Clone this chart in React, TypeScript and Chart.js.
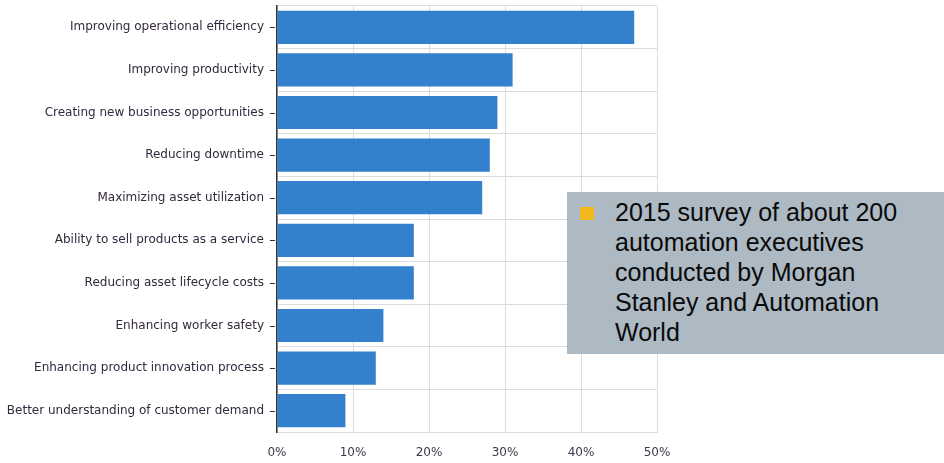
import React, { useEffect, useRef } from "react";
import { Chart, registerables } from "chart.js";

Chart.register(...registerables);

const categories = [
  "Improving operational efficiency",
  "Improving productivity",
  "Creating new business opportunities",
  "Reducing downtime",
  "Maximizing asset utilization",
  "Ability to sell products as a service",
  "Reducing asset lifecycle costs",
  "Enhancing worker safety",
  "Enhancing product innovation process",
  "Better understanding of customer demand",
];
const values = [47, 31, 29, 28, 27, 18, 18, 14, 13, 9];
const xTicks = [0, 10, 20, 30, 40, 50];
const noteLines = [
  "2015 survey of about 200",
  "automation executives",
  "conducted by Morgan",
  "Stanley and Automation",
  "World",
];

const tickMarks = {
  id: "tickMarks",
  afterDraw(chart: any) {
    const y = chart.scales.y;
    const ctx = chart.ctx;
    ctx.save();
    ctx.strokeStyle = "#333";
    ctx.lineWidth = 1;
    for (let i = 0; i < categories.length; i++) {
      const py = Math.round(y.getPixelForValue(i)) + 0.5;
      ctx.beginPath();
      ctx.moveTo(y.right - 7, py);
      ctx.lineTo(y.right - 2, py);
      ctx.stroke();
    }
    ctx.restore();
  },
};

export default function App() {
  const ref = useRef<HTMLCanvasElement>(null);
  useEffect(() => {
    document.body.style.margin = "0";
    const chart = new Chart(ref.current!, {
      type: "bar",
      data: {
        labels: categories,
        datasets: [
          {
            data: values,
            backgroundColor: "rgba(38,120,202,0.94)",
            borderWidth: 0,
            barPercentage: 0.78,
            categoryPercentage: 1,
          },
        ],
      },
      options: {
        indexAxis: "y",
        animation: false,
        responsive: false,
        layout: { padding: { left: 0, right: 287, top: 6, bottom: 0 } },
        plugins: { legend: { display: false }, tooltip: { enabled: false } },
        scales: {
          x: {
            min: 0,
            max: 50,
            afterBuildTicks: (s: any) => {
              s.ticks = xTicks.map((v) => ({ value: v }));
            },
            afterFit: (s: any) => {
              s.height = 31;
              s.paddingLeft = 0;
              s.paddingRight = 0;
            },
            grid: { color: "#dcdcdc", lineWidth: 1, drawTicks: false },
            border: { color: "#dcdcdc" },
            ticks: {
              padding: 14,
              color: "#3a3a4a",
              font: { family: "DejaVu Sans", size: 12 },
              callback: (v: any) => v + "%",
            },
          },
          y: {
            afterFit: (s: any) => {
              s.width = 277;
              s.paddingTop = 0;
              s.paddingBottom = 0;
            },
            grid: { color: "#dcdcdc", lineWidth: 1, offset: true, drawTicks: false },
            border: { color: "#333", width: 1.5 },
            ticks: {
              padding: 13,
              color: "#33283d",
              font: { family: "DejaVu Sans", size: 12 },
            },
          },
        },
      },
      plugins: [tickMarks],
    });
    return () => chart.destroy();
  }, []);
  return (
    <div style={{ position: "relative", width: 944, height: 463 }}>
      <canvas ref={ref} width={944} height={463} style={{ display: "block" }} />
      <div
        style={{
          position: "absolute",
          left: 567,
          top: 192,
          width: 377,
          height: 162,
          background: "#adb9c3",
          boxSizing: "border-box",
          padding: "5px 0 0 48px",
          fontFamily: "'Liberation Sans', Arial, sans-serif",
          fontSize: 25,
          lineHeight: "30px",
          color: "#0a0a0a",
        }}
      >
        <div
          style={{
            position: "absolute",
            left: 13,
            top: 15,
            width: 14,
            height: 13,
            background: "#f2b81c",
          }}
        />
        {noteLines.map((l, i) => (
          <div key={i}>{l}</div>
        ))}
      </div>
    </div>
  );
}
